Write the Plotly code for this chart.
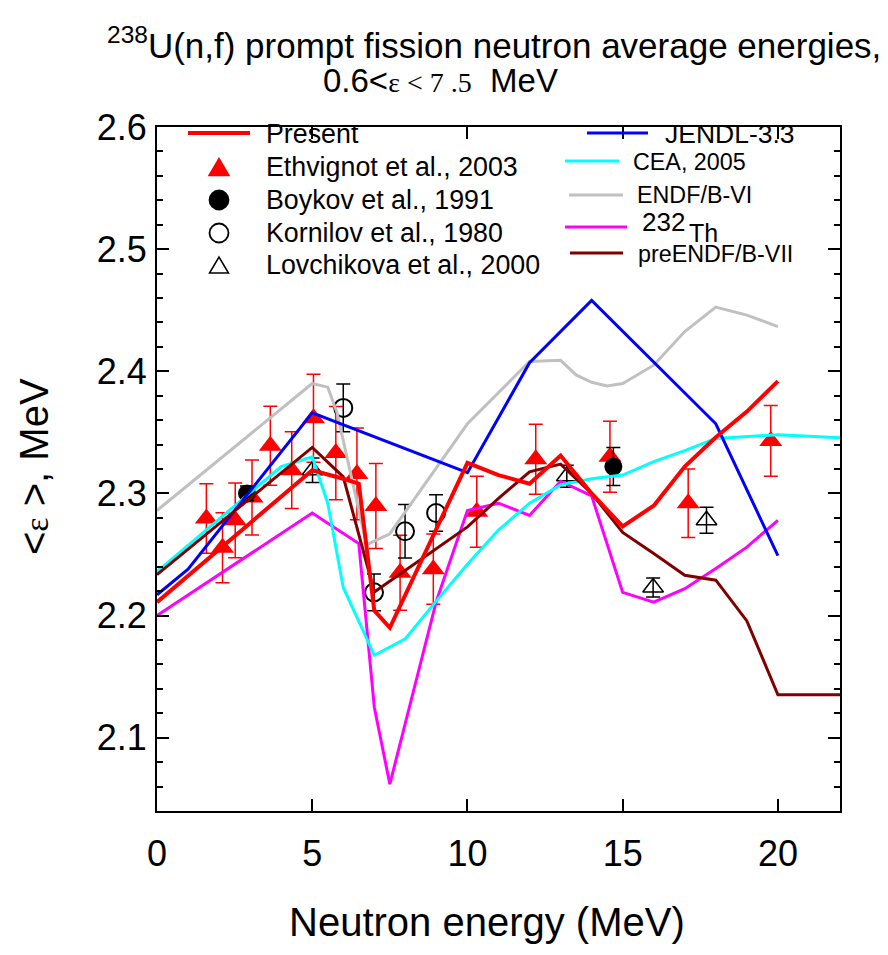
import plotly.graph_objects as go

# ---------------- data ----------------
present_x = [0, 5, 6, 6.5, 7, 7.5, 10, 11, 12, 13, 14, 15, 16, 17, 18, 19, 20]
present_y = [2.211, 2.319, 2.312, 2.308, 2.204, 2.190, 2.325, 2.315, 2.308, 2.331,
             2.300, 2.273, 2.290, 2.322, 2.346, 2.367, 2.392]

jendl_x = [0, 1, 5, 10, 12, 14, 18, 20]
jendl_y = [2.217, 2.238, 2.366, 2.317, 2.407, 2.458, 2.357, 2.249]

cea_x = [0, 4, 5, 5.5, 6, 7, 8, 9, 10, 11, 12, 13, 14, 15, 16, 17, 18, 20, 22]
cea_y = [2.236, 2.322, 2.330, 2.292, 2.223, 2.1675, 2.181, 2.212, 2.242, 2.270,
         2.292, 2.307, 2.312, 2.315, 2.326, 2.335, 2.345, 2.348, 2.3456]

endf6_x = [0, 5, 5.5, 5.8, 6.75, 7.5, 10, 12, 13, 13.5, 14, 14.5, 15, 16, 17, 18, 19, 20]
endf6_y = [2.286, 2.390, 2.387, 2.366, 2.258, 2.267, 2.357, 2.408, 2.409, 2.397,
           2.391, 2.388, 2.390, 2.405, 2.4325, 2.4525, 2.446, 2.4366]

th232_x = [0, 5, 6.5, 7, 7.5, 9, 10, 11, 12, 13, 14, 15, 16, 17, 18, 19, 20]
th232_y = [2.200, 2.284, 2.259, 2.125, 2.062, 2.212, 2.286, 2.292, 2.282, 2.310,
           2.298, 2.219, 2.211, 2.222, 2.2385, 2.256, 2.278]

pre7_x = [0, 5, 6, 7, 10, 11, 12, 13, 14, 15, 16, 17, 18, 19, 20, 22]
pre7_y = [2.2335, 2.3377, 2.3136, 2.2193, 2.2726, 2.2959, 2.3177, 2.324, 2.300,
          2.268, 2.2508, 2.233, 2.229, 2.1956, 2.1352, 2.1352]

ethv_x = [1.59, 2.11, 2.52, 3.06, 3.65, 4.34, 5.04, 5.76, 6.44, 7.05, 7.83, 8.90,
          10.30, 12.20, 14.59, 17.11, 19.77]
ethv_y = [2.2795, 2.2555, 2.278, 2.2966, 2.339, 2.319, 2.3615, 2.333, 2.316, 2.2897,
          2.235, 2.238, 2.285, 2.328, 2.330, 2.292, 2.343]
ethv_err = [0.0285, 0.0287, 0.0306, 0.0307, 0.0324, 0.0314, 0.036, 0.0382, 0.0375,
            0.0348, 0.0307, 0.0287, 0.029, 0.0287, 0.029, 0.028, 0.029]

boyk_x = [2.90, 14.70]
boyk_y = [2.300, 2.322]
boyk_err = [0.006, 0.0156]

korn_x = [6.00, 6.99, 7.99, 8.99]
korn_y = [2.370, 2.219, 2.269, 2.284]
korn_err = [0.0195, 0.015, 0.0219, 0.015]

lovc_x = [5.01, 13.20, 15.98, 17.70]
lovc_y = [2.319, 2.314, 2.223, 2.278]
lovc_err = [0.010, 0.009, 0.0078, 0.0107]

x_ticks = [0, 5, 10, 15, 20]

# ---------------- layout helpers ----------------
# the page body has an 8px margin, so the figure is offset by (8, 8)
OFF = 8
W, H = 872, 939
L, R, T, B = 149, 40, 119, 136
PW, PH = W - L - R, H - T - B


def PX(px):  # page pixel -> paper
    return (px - OFF - L) / PW


def PY(py):
    return (OFF + T + PH - py) / PH


FONT = "Liberation Sans, Arial, sans-serif"

fig = go.Figure()

# markers (drawn under the curves)
fig.add_trace(go.Scatter(
    x=ethv_x, y=ethv_y, mode="markers",
    marker=dict(symbol="triangle-up", size=20, color="#FF0000"),
    error_y=dict(type="data", array=ethv_err, color="#FF0000", thickness=1.5, width=7)))
fig.add_trace(go.Scatter(
    x=boyk_x, y=boyk_y, mode="markers",
    marker=dict(symbol="circle", size=18, color="black"),
    error_y=dict(type="data", array=boyk_err, color="black", thickness=1.5, width=7)))
fig.add_trace(go.Scatter(
    x=korn_x, y=korn_y, mode="markers",
    marker=dict(symbol="circle-open", size=18, color="black", line=dict(width=2)),
    error_y=dict(type="data", array=korn_err, color="black", thickness=1.5, width=7)))
fig.add_trace(go.Scatter(
    x=lovc_x, y=lovc_y, mode="markers",
    marker=dict(symbol="triangle-up-open", size=18, color="black", line=dict(width=1.5)),
    error_y=dict(type="data", array=lovc_err, color="black", thickness=1.5, width=7)))

# curves
curves = [
    (endf6_x, endf6_y, "#C0C0C0", 3),
    (th232_x, th232_y, "#FF00FF", 3),
    (cea_x, cea_y, "#00FFFF", 3),
    (jendl_x, jendl_y, "#0000FF", 3),
    (pre7_x, pre7_y, "#800000", 3),
    (present_x, present_y, "#FF0000", 4),
]
for xs, ys, col, w in curves:
    fig.add_trace(go.Scatter(x=xs, y=ys, mode="lines", line=dict(color=col, width=w)))

axis_common = dict(showline=True, linecolor="black", linewidth=2, mirror="ticks",
                   ticks="inside", ticklen=12, tickwidth=1.5, tickcolor="black",
                   showgrid=False, zeroline=False,
                   tickfont=dict(family=FONT, size=36, color="black"))

fig.update_xaxes(range=[0, 22], tickvals=x_ticks, ticktext=[str(v) for v in x_ticks],
                 ticklabelstandoff=10, **axis_common)
fig.update_yaxes(range=[2.04, 2.6], tick0=2.0, dtick=0.1, tickformat=".1f",
                 ticklabelstandoff=1,
                 minor=dict(dtick=0.02, ticks="inside", ticklen=6, tickwidth=1.5,
                            tickcolor="black", showgrid=False),
                 **axis_common)

shapes = []
annotations = []


def line_key(x0, x1, y, col, w):
    shapes.append(dict(type="line", xref="paper", yref="paper",
                       x0=PX(x0), x1=PX(x1), y0=PY(y), y1=PY(y),
                       line=dict(color=col, width=w)))


def text(xpx, ypx, s, size, anchor="left", angle=0):
    annotations.append(dict(xref="paper", yref="paper", x=PX(xpx), y=PY(ypx),
                            xanchor=anchor, yanchor="middle", text=s, showarrow=False,
                            textangle=angle, borderpad=0,
                            font=dict(family=FONT, size=size, color="black")))


def tri_key(cx, cy, w, h, fill, line_col):
    p = "M {:.5f},{:.5f} L {:.5f},{:.5f} L {:.5f},{:.5f} Z".format(
        PX(cx - w / 2), PY(cy + h / 2), PX(cx + w / 2), PY(cy + h / 2), PX(cx), PY(cy - h / 2))
    shapes.append(dict(type="path", xref="paper", yref="paper", path=p,
                       fillcolor=fill, line=dict(color=line_col, width=1.5)))


def circ_key(cx, cy, r, fill, line_col):
    shapes.append(dict(type="circle", xref="paper", yref="paper",
                       x0=PX(cx - r), x1=PX(cx + r), y0=PY(cy + r), y1=PY(cy - r),
                       fillcolor=fill, line=dict(color=line_col, width=1.8)))


# left legend column
LF = 26.8
line_key(188, 250, 133, "#FF0000", 4)
text(265, 134, "Present", LF)
tri_key(219, 167, 20, 17, "#FF0000", "#FF0000")
text(265, 167, "Ethvignot et al., 2003", LF)
circ_key(219, 200, 9.5, "black", "black")
text(265, 200, "Boykov et al., 1991", LF)
circ_key(219, 233, 9.5, "rgba(0,0,0,0)", "black")
text(265, 233, "Kornilov et al., 1980", LF)
tri_key(219, 265, 19, 16, "rgba(0,0,0,0)", "black")
text(265, 265, "Lovchikova et al., 2000", LF)

# right legend column
line_key(587, 648, 133, "#0000FF", 3)
text(664, 134, "JENDL-3.3", 26.5)
line_key(565, 619, 161, "#00FFFF", 3)
text(632, 162, "CEA, 2005", 23.3)
line_key(569, 623, 195, "#C0C0C0", 3)
text(636, 195, "ENDF/B-VI", 23.3)
line_key(565, 627, 227, "#FF00FF", 3)
text(641, 222, "232", 26)
text(688, 233, "Th", 25)
line_key(570, 623, 253, "#800000", 3)
text(637, 254, "preENDF/B-VII", 23.3)

# title
text(106, 43, "<sup>238</sup>U(n,f) prompt fission neutron average energies,", 35)
text(440, 80, "0.6&lt;<span style='font-family:Liberation Serif;font-size:28px'>ε &lt; 7 .5</span>  MeV",
     33, anchor="center")

# axis titles
text(487, 922, "Neutron energy (MeV)", 40, anchor="center")
annotations.append(dict(xref="paper", yref="paper", x=PX(34), y=PY(467),
                        xanchor="center", yanchor="middle", textangle=-90, showarrow=False,
                        text="&lt;<span style='font-family:Liberation Serif;font-size:34px'>ε</span> &gt;, MeV",
                        font=dict(family=FONT, size=40, color="black")))

fig.update_layout(width=W, height=H, margin=dict(l=L, r=R, t=T, b=B),
                  plot_bgcolor="white", paper_bgcolor="white", showlegend=False,
                  font=dict(family=FONT, color="black"),
                  shapes=shapes, annotations=annotations)

fig.write_html("out.html")
